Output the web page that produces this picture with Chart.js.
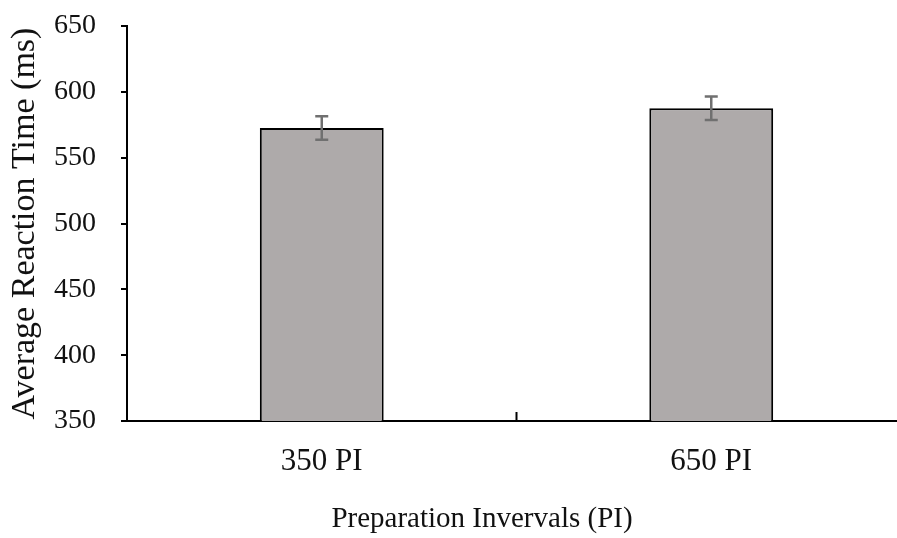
<!DOCTYPE html>
<html>
<head>
<meta charset="utf-8">
<script src="https://cdn.jsdelivr.net/npm/chart.js@4"></script>
<style>
  html, body { margin: 0; padding: 0; background: #fff; overflow: hidden; }
  #wrap { width: 897px; height: 538px; overflow: hidden; }
</style>
</head>
<body>
<div id="wrap"><canvas id="rtChart" width="910" height="538"></canvas></div>
<script>
const categories = ['350 PI', '650 PI'];
const meanRT = [572.5, 587.5];
const errRT = [8.9, 8.9];
const yTicks = [350, 400, 450, 500, 550, 600, 650];
const xTitle = 'Preparation Invervals (PI)';

const serif = "'Liberation Serif', 'Times New Roman', serif";

// error bars drawn on top of the bars
const errorBars = {
  id: 'errorBars',
  afterDatasetsDraw(chart) {
    const ctx = chart.ctx;
    const y = chart.scales.y;
    const meta = chart.getDatasetMeta(0);
    ctx.save();
    ctx.strokeStyle = '#707070';
    ctx.lineWidth = 2.5;
    meta.data.forEach((bar, i) => {
      const top = y.getPixelForValue(meanRT[i] + errRT[i]);
      const bot = y.getPixelForValue(meanRT[i] - errRT[i]);
      ctx.beginPath();
      ctx.moveTo(bar.x, top); ctx.lineTo(bar.x, bot);
      ctx.moveTo(bar.x - 6.5, top); ctx.lineTo(bar.x + 6.5, top);
      ctx.moveTo(bar.x - 6.5, bot); ctx.lineTo(bar.x + 6.5, bot);
      ctx.stroke();
    });
    ctx.restore();
  }
};

// small inward tick between categories + x axis title (sits left of centre in the original)
const xDecor = {
  id: 'xDecor',
  afterDraw(chart) {
    const ctx = chart.ctx;
    const x = chart.scales.x;
    const bottom = chart.chartArea.bottom;
    ctx.save();
    ctx.strokeStyle = '#000';
    ctx.lineWidth = 2;
    for (let i = 1; i < categories.length; i++) {
      const px = (x.getPixelForTick(i - 1) + x.getPixelForTick(i)) / 2;
      ctx.beginPath();
      ctx.moveTo(px, bottom);
      ctx.lineTo(px, bottom - 9);
      ctx.stroke();
    }
    ctx.fillStyle = '#111';
    ctx.font = '29px ' + serif;
    ctx.textAlign = 'center';
    ctx.textBaseline = 'alphabetic';
    ctx.fillText(xTitle, x.left + 355, 527);
    ctx.restore();
  }
};

new Chart(document.getElementById('rtChart'), {
  type: 'bar',
  data: {
    labels: categories,
    datasets: [{
      data: meanRT,
      backgroundColor: '#aeaaaa',
      borderColor: '#000',
      borderWidth: 2,
      barPercentage: 0.318,
      categoryPercentage: 1
    }]
  },
  options: {
    responsive: false,
    animation: false,
    devicePixelRatio: 1,
    layout: { padding: { top: 26, right: 4, left: 0, bottom: 0 } },
    plugins: { legend: { display: false }, tooltip: { enabled: false } },
    scales: {
      x: {
        afterFit: s => { s.height = 117; },
        grid: { display: false, drawTicks: false },
        border: { display: true, color: '#000', width: 2 },
        ticks: { color: '#111', font: { family: serif, size: 31 }, padding: 22 }
      },
      y: {
        min: 350,
        max: 650,
        afterBuildTicks: s => { s.ticks = yTicks.map(v => ({ value: v })); },
        afterFit: s => { s.width = 127; s.paddingTop = 0; s.paddingBottom = 0; },
        grid: { drawOnChartArea: false, drawTicks: true, tickLength: 6, color: '#000', lineWidth: 2 },
        border: { color: '#000', width: 2 },
        ticks: { color: '#111', font: { family: serif, size: 28 }, padding: 25 },
        title: {
          display: true,
          text: 'Average Reaction Time (ms)',
          color: '#111',
          font: { family: serif, size: 34 },
          padding: { top: 5, bottom: 0 }
        }
      }
    }
  },
  plugins: [errorBars, xDecor]
});
</script>
</body>
</html>
